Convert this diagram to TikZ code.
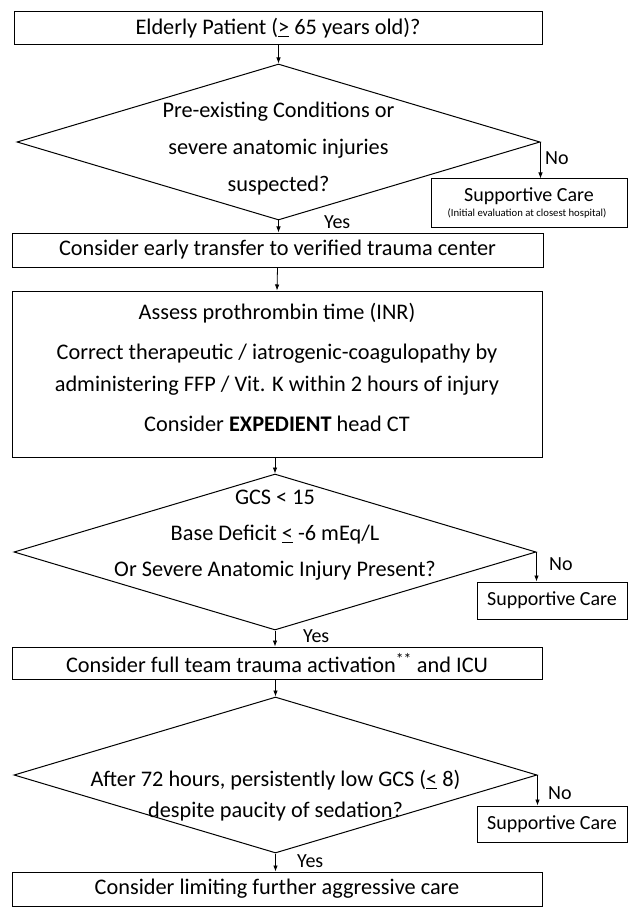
\documentclass[tikz,border=0pt]{standalone}
\usepackage{fontspec}
\setmainfont{Carlito}
\usetikzlibrary{positioning, shapes.geometric, arrows.meta}

\begin{document}
\begin{tikzpicture}[x=1pt, y=-1pt,
    flowbox/.style={draw=black, line width=1pt, minimum width=530pt, inner sep=0pt, font=\fontsize{22.3}{26}\selectfont},
    decide/.style={draw=black, line width=1pt, diamond, minimum width=523pt, minimum height=156pt, inner sep=0pt},
    carebox/.style={draw=black, line width=1pt, inner sep=0pt, minimum width=150pt},
    flowarrow/.style={-{Latex[length=6pt,width=4.5pt]}, line width=0.8pt},
    lbl/.style={font=\fontsize{20}{24}\selectfont, inner sep=0pt},
    qtext/.style={align=center, inner sep=0pt}]
    \useasboundingbox (0,0) rectangle (628,909);

    % Start
    \node[flowbox, minimum width=528pt, minimum height=33pt] (elderly) at (278,28.5) {Elderly Patient (\underline{>} 65 years old)?};

    % First decision
    \node[decide] (cond) at (278.5,142) {};
    \node[qtext, font=\fontsize{22.3}{37}\selectfont] (condtxt) at (278.5,149) {Pre-existing Conditions or\\severe anatomic injuries\\suspected?};
    \node[carebox, minimum width=196pt, minimum height=49pt] (care1) at (529,203.5) {};
    \node[font=\fontsize{20}{23}\selectfont, inner sep=0pt] (care1txt) at (529,196) {Supportive Care};
    \node[font=\fontsize{10.7}{12}\selectfont, inner sep=0pt] (care1sub) at (527,213) {(Initial evaluation at closest hospital)};
    \node[lbl, anchor=west] (no1) at (545,158) {No};
    \node[lbl, anchor=west] (yes1) at (324,222) {Yes};

    % Transfer and INR
    \node[flowbox, minimum width=531pt, minimum height=34pt] (transfer) at (277.5,250) {Consider early transfer to verified trauma center};
    \node[flowbox, minimum height=166pt] (inr) at (277,374) {};
    \node[qtext, font=\fontsize{22.3}{32}\selectfont] (inrtxt) at (277,367) {Assess prothrombin time (INR)\\[8pt]Correct therapeutic / iatrogenic-coagulopathy by\\administering FFP / Vit. K within 2 hours of injury\\[8pt]Consider \textbf{EXPEDIENT} head CT};

    % Second decision
    \node[decide, minimum width=522pt] (gcs) at (275,552) {};
    \node[qtext, font=\fontsize{22.3}{36}\selectfont] (gcstxt) at (275,535) {GCS < 15\\Base Deficit \underline{<} -6 mEq/L\\Or Severe Anatomic Injury Present?};
    \node[carebox, minimum height=37pt, font=\fontsize{20}{23}\selectfont] (care2) at (552,600.5) {Supportive Care};
    \node[lbl, anchor=west] (no2) at (549,564) {No};
    \node[lbl, anchor=west] (yes2) at (303,636) {Yes};
    \node[flowbox, minimum height=32pt] (team) at (277,663) {Consider full team trauma activation\textsuperscript{**} and ICU};

    % Third decision
    \node[decide] (limit) at (275.5,775) {};
    \node[qtext, font=\fontsize{22.3}{31}\selectfont] (limittxt) at (275.5,796) {After 72 hours, persistently low GCS (\underline{<} 8)\\despite paucity of sedation?};
    \node[carebox, minimum height=36pt, font=\fontsize{20}{23}\selectfont] (care3) at (552,824) {Supportive Care};
    \node[lbl, anchor=west] (no3) at (548,793) {No};
    \node[lbl, anchor=west] (yes3) at (297,861) {Yes};
    \node[flowbox, minimum height=34pt] (stop) at (277,889) {Consider limiting further aggressive care};

    % Arrows
    \draw[flowarrow] (cond.north |- elderly.south) -- (cond.north);
    \draw[flowarrow] (cond.east) -- (cond.east |- care1.north);
    \draw[flowarrow] (cond.south) -- (cond.south |- transfer.north);
    \draw[flowarrow] (transfer.south) -- (inr.north);
    \draw[flowarrow] (gcs.north |- inr.south) -- (gcs.north);
    \draw[flowarrow] (gcs.east) -- (gcs.east |- care2.north);
    \draw[flowarrow] (gcs.south) -- (gcs.south |- team.north);
    \draw[flowarrow] (limit.north |- team.south) -- (limit.north);
    \draw[flowarrow] (limit.east) -- (limit.east |- care3.north);
    \draw[flowarrow] (limit.south) -- (limit.south |- stop.north);
\end{tikzpicture}
\end{document}
